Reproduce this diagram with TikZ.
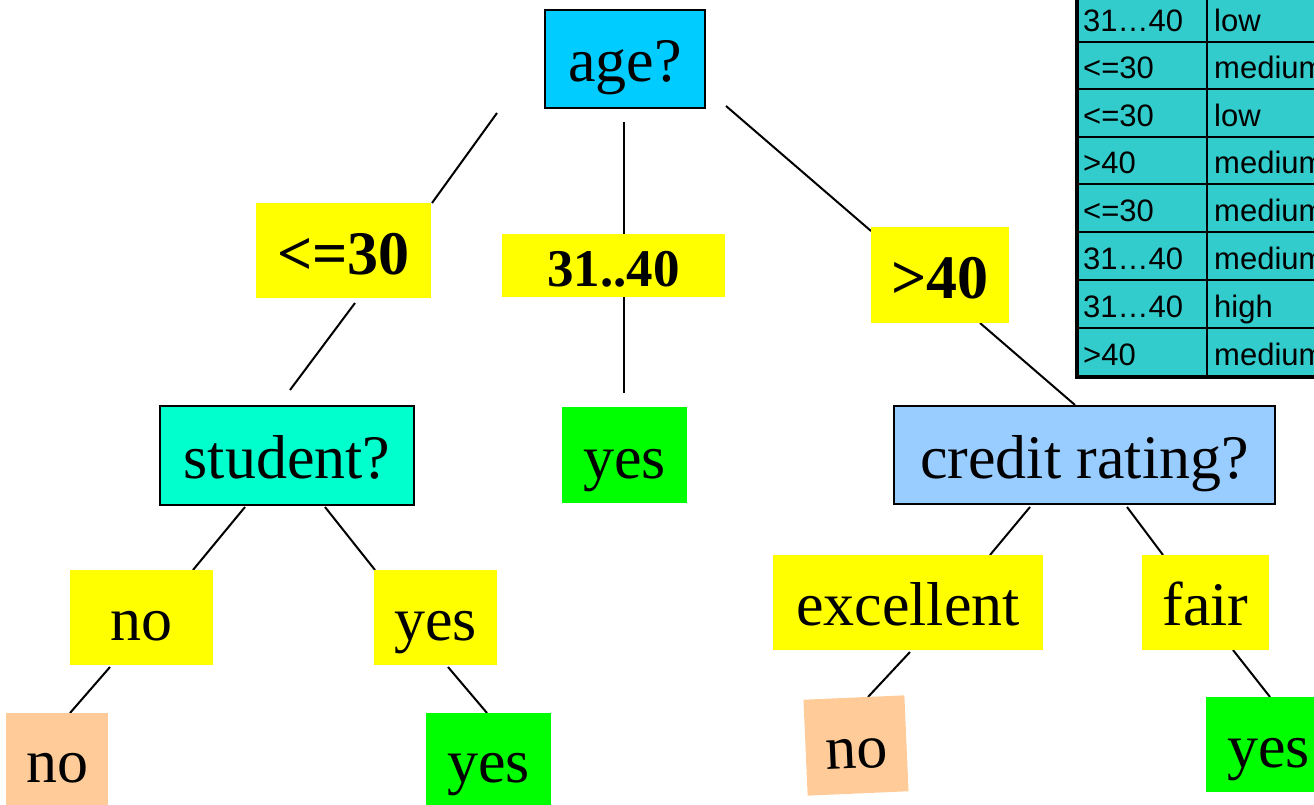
\documentclass[tikz,border=0pt]{standalone}
\usepackage{fontspec}
\setmainfont{Liberation Serif}
\newfontfamily\tabfont{Liberation Sans}
\definecolor{agecol}{HTML}{00CCFF}
\definecolor{studcol}{HTML}{00FFCC}
\definecolor{credcol}{HTML}{99CCFF}
\definecolor{leafyes}{HTML}{00FF00}
\definecolor{leafno}{HTML}{FFCC99}
\definecolor{lblcol}{HTML}{FFFF00}
\definecolor{tabcol}{HTML}{33CCCC}
\tikzset{
  qbox/.style={draw=black, line width=1.5pt, inner sep=0pt, font=\fontsize{62}{64}\selectfont, text height=46pt, text depth=0pt},
  lbl/.style={fill=lblcol, inner sep=0pt, font=\fontsize{62}{64}\selectfont, text height=46pt, text depth=0pt},
  blbl/.style={fill=lblcol, inner sep=0pt, font=\fontsize{62}{64}\selectfont\bfseries, text height=47pt, text depth=0pt},
  leaf/.style={inner sep=0pt, font=\fontsize{62}{64}\selectfont, text height=46pt, text depth=0pt},
  conn/.style={line width=2pt, black},
  tabtxt/.style={anchor=base west, inner sep=0pt, font=\tabfont\fontsize{31}{33}\selectfont},
}
\begin{document}
\begin{tikzpicture}[x=1pt,y=-1pt]
\useasboundingbox (0,0) rectangle (1314,805);
\clip (0,0) rectangle (1314,805);

% table
\fill[tabcol] (1077,-10) rectangle (1330,377);
\foreach \yy in {42,89,137,184,232,280,328}{
  \draw[line width=2.2pt] (1077,\yy) -- (1330,\yy);
}
\draw[line width=3.5pt] (1077,-10) -- (1077,377) -- (1330,377);
\draw[line width=2.2pt] (1207,-10) -- (1207,377);
\node[tabtxt] (t1a) at (1083,32) {31\ldots40};
\node[tabtxt] (t1b) at (1214,32) {low};
\node[tabtxt] (t2a) at (1083,79) {<=30};
\node[tabtxt] (t2b) at (1214,79) {medium};
\node[tabtxt] (t3a) at (1083,127) {<=30};
\node[tabtxt] (t3b) at (1214,127) {low};
\node[tabtxt] (t4a) at (1083,174) {>40};
\node[tabtxt] (t4b) at (1214,174) {medium};
\node[tabtxt] (t5a) at (1083,222) {<=30};
\node[tabtxt] (t5b) at (1214,222) {medium};
\node[tabtxt] (t6a) at (1083,269) {31\ldots40};
\node[tabtxt] (t6b) at (1214,269) {medium};
\node[tabtxt] (t7a) at (1083,317) {31\ldots40};
\node[tabtxt] (t7b) at (1214,317) {high};
\node[tabtxt] (t8a) at (1083,365) {>40};
\node[tabtxt] (t8b) at (1214,365) {medium};

% connector end points
\coordinate (a1) at (497,113); \coordinate (a1e) at (432,203);
\coordinate (a2) at (624,122); \coordinate (a2e) at (624,236);
\coordinate (a2b) at (624,295); \coordinate (a2be) at (624,393);
\coordinate (a3) at (726,106); \coordinate (a3e) at (871,231);
\coordinate (a3b) at (980,323); \coordinate (a3be) at (1075,405);
\coordinate (l1) at (355,303); \coordinate (l1e) at (290,390);
\coordinate (s1) at (245,507); \coordinate (s1e) at (193,570);
\coordinate (s2) at (325,507); \coordinate (s2e) at (375,570);
\coordinate (n1) at (110,667); \coordinate (n1e) at (70,713);
\coordinate (y1) at (448,667); \coordinate (y1e) at (487,713);
\coordinate (c1) at (1030,507); \coordinate (c1e) at (990,555);
\coordinate (c2) at (1127,507); \coordinate (c2e) at (1163,555);
\coordinate (e1) at (910,652); \coordinate (e1e) at (868,697);
\coordinate (f1) at (1233,650); \coordinate (f1e) at (1270,697);

\draw[conn] (a1) -- (a1e);
\draw[conn] (a2) -- (a2e);
\draw[conn] (a2b) -- (a2be);
\draw[conn] (a3) -- (a3e);
\draw[conn] (a3b) -- (a3be);
\draw[conn] (l1) -- (l1e);
\draw[conn] (s1) -- (s1e);
\draw[conn] (s2) -- (s2e);
\draw[conn] (n1) -- (n1e);
\draw[conn] (y1) -- (y1e);
\draw[conn] (c1) -- (c1e);
\draw[conn] (c2) -- (c2e);
\draw[conn] (e1) -- (e1e);
\draw[conn] (f1) -- (f1e);

% question nodes
\node[qbox, fill=agecol, minimum width=160pt, minimum height=98pt] (age) at (625,59) {age?};
\node[qbox, fill=studcol, minimum width=254pt, minimum height=99pt] (student) at (287,455.5) {student?};
\node[qbox, fill=credcol, minimum width=381pt, minimum height=98pt] (credit) at (1084.5,455) {credit rating?};

% branch labels
\node[blbl, minimum width=175pt, minimum height=95pt] (le30) at (343.5,250.5) {<=30};
\node[blbl, minimum width=223pt, minimum height=63pt, font=\fontsize{53}{55}\selectfont\bfseries, text height=42pt] (mid) at (613.5,265.5) {31..40};
\node[blbl, minimum width=138pt, minimum height=96pt] (gt40) at (940,275) {>40};
\node[lbl, minimum width=143pt, minimum height=95pt] (lno) at (141.5,617.5) {no};
\node[lbl, minimum width=123pt, minimum height=95pt] (lyes) at (435.5,617.5) {yes};
\node[lbl, minimum width=270pt, minimum height=95pt] (lexc) at (908,602.5) {excellent};
\node[lbl, minimum width=127pt, minimum height=95pt] (lfair) at (1205.5,602.5) {fair};

% leaves
\node[leaf, fill=leafyes, minimum width=125pt, minimum height=96pt] (yesmid) at (624.5,455) {yes};
\node[leaf, fill=leafno, minimum width=102pt, minimum height=92pt] (noleft) at (57,759) {no};
\node[leaf, fill=leafyes, minimum width=125pt, minimum height=92pt] (yesleft) at (488.5,759) {yes};
\node[leaf, fill=leafno, minimum width=101pt, minimum height=96pt, rotate=2.5] (noright) at (856,745.5) {no};
\node[leaf, fill=leafyes, minimum width=125pt, minimum height=95pt] (yesright) at (1268.5,744.5) {yes};
\end{tikzpicture}
\end{document}
